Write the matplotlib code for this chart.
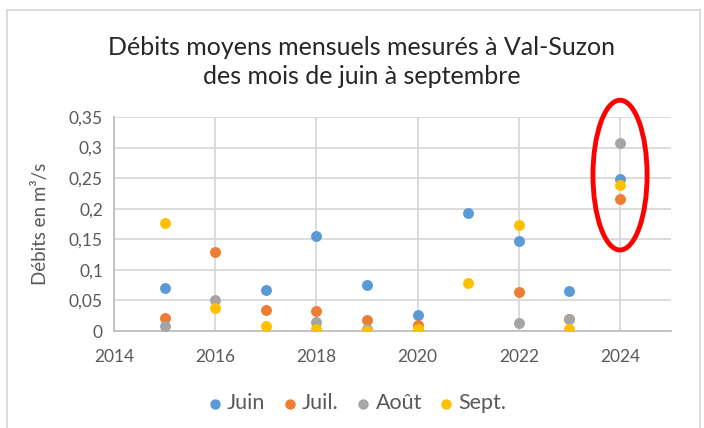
import numpy as np
import matplotlib
matplotlib.use("Agg")
import matplotlib.pyplot as plt
from matplotlib.patches import Ellipse, Rectangle
from matplotlib.ticker import FuncFormatter

plt.rcParams['font.family'] = ['Lato', 'DejaVu Sans']

# data (NaN = no point)
years = [2015, 2016, 2017, 2018, 2019, 2020, 2021, 2022, 2023, 2024]
juin = [0.070, np.nan, 0.067, 0.156, 0.076, 0.027, 0.193, 0.147, 0.065, 0.248]
juil = [0.021, 0.130, 0.034, 0.033, 0.018, 0.010, np.nan, 0.064, 0.020, 0.216]
aout = [0.008, 0.050, np.nan, 0.015, 0.004, 0.000, np.nan, 0.013, 0.019, 0.308]
sept = [0.176, 0.037, 0.008, 0.004, 0.000, 0.004, 0.079, 0.174, 0.004, 0.239]

labels = ["Juin", "Juil.", "Août", "Sept."]
colors = ["#5B9BD5", "#ED7D31", "#A5A5A5", "#FFC000"]

fig = plt.figure(figsize=(7.04, 4.28), dpi=100)
ax = fig.add_axes([0.162, 0.2266, 0.7906, 0.5])

for vals, lab, col in zip([juin, juil, aout, sept], labels, colors):
    ax.scatter(years, vals, s=62, color=col, label=lab, zorder=3, linewidths=0)

ax.set_xlim(2014, 2025)
ax.set_ylim(0, 0.35)
ax.set_xticks(np.arange(2014, 2025, 2))
ax.set_yticks(np.arange(0, 0.351, 0.05))
ax.yaxis.set_major_formatter(FuncFormatter(lambda v, p: ("%g" % round(v, 2)).replace(".", ",")))

ax.grid(True, color="#D9D9D9", linewidth=1.3, zorder=0)
ax.set_axisbelow(True)
for side in ["top", "right"]:
    ax.spines[side].set_visible(False)
for side in ["left", "bottom"]:
    ax.spines[side].set_color("#BFBFBF")
    ax.spines[side].set_linewidth(1.3)
ax.tick_params(length=0, labelsize=12.5, colors="#595959")
ax.tick_params(axis="y", pad=8)
ax.tick_params(axis="x", pad=13)

ax.set_ylabel("Débits en m³/s", fontsize=13.5, color="#595959", labelpad=14)

fig.text(0.514, 0.855, "Débits moyens mensuels mesurés à Val-Suzon\ndes mois de juin à septembre",
         ha="center", va="center", fontsize=18, color="#262626", linespacing=1.3)

# red ellipse around 2024
ell = Ellipse((2024, 0.255), 1.07, 0.245, fill=False, edgecolor="red", linewidth=3.5,
              clip_on=False, zorder=4)
ax.add_patch(ell)

leg = fig.legend(loc="center", bbox_to_anchor=(0.508, 0.058), ncol=4, frameon=False,
                 fontsize=15.5, handlelength=0.55, handletextpad=0.3, columnspacing=0.85,
                 markerscale=0.95, labelcolor="#595959")

# light chart border
fig.patches.append(Rectangle((7 / 704, -0.05), 693 / 704, 1 - 10 / 428 + 0.05,
                             transform=fig.transFigure, fill=False,
                             edgecolor="#D9D9D9", linewidth=1.3))

fig.savefig("out.png", dpi=100)
